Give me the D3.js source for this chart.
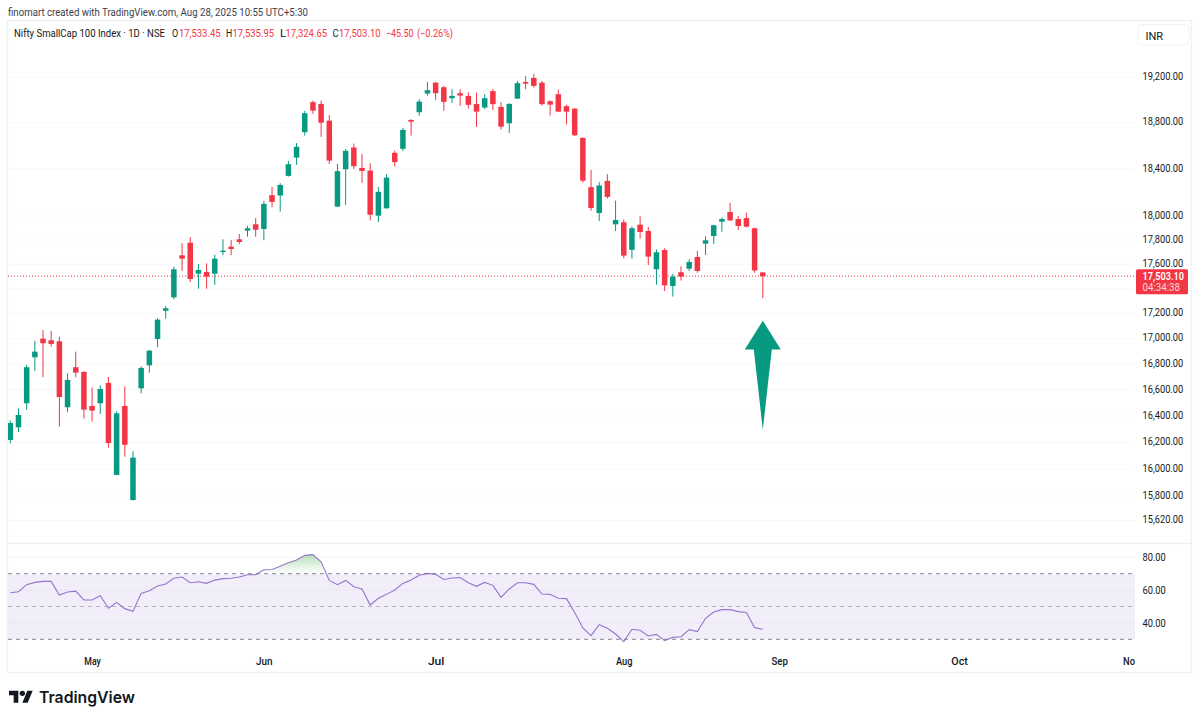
<!DOCTYPE html>
<html>
<head>
<meta charset="utf-8">
<title>Nifty SmallCap 100 Index</title>
<script src="https://cdn.jsdelivr.net/npm/d3@7/dist/d3.min.js"></script>
<style>
  html, body { margin: 0; padding: 0; background: #fff; }
  svg { display: block; }
  text { font-family: Roboto, "Liberation Sans", sans-serif; fill: #131722; }
</style>
</head>
<body>
<svg id="chart" width="1200" height="721"></svg>
<script>
// Daily candles, oldest first
const opens  = [16217,16313,16497,16854,17001,16988,16980,16466,16776,16739,16476,16497,16654,15955,16476,15770,16612,16791,16998,17223,17331,17674,17778,17523,17537,17523,17701,17745,17806,17878,17931,17892,18176,18173,18340,18497,18717,18981,18965,18818,18079,18397,18584,18408,18385,18003,18065,18538,18573,18824,18892,19057,19154,19113,19016,19060,19036,18965,18933,19078,18939,18795,19012,19160,19196,19154,18989,19051,18945,18924,18667,18244,18025,18297,17931,17948,17719,17928,17875,17559,17718,17423,17535,17564,17660,17770,17833,17953,18034,17975,17983,17898,17533.45];
const highs  = [16364,16458,16794,16983,17070,17062,17017,16729,16898,16745,16620,16635,16700,16436,16627,16132,16784,16912,17163,17261,17580,17773,17825,17602,17608,17679,17806,17800,17850,17917,17983,18127,18246,18278,18468,18622,18904,18995,18995,18868,18442,18571,18618,18529,18448,18246,18354,18558,18754,18830,19007,19160,19160,19125,19096,19096,19069,19065,19051,19098,18981,18972,19169,19213,19231,19169,18998,19092,18957,18927,18673,18391,18286,18354,18130,17972,17914,17997,17908,17723,17732,17523,17584,17641,17711,17831,17928,17989,18110,18000,18028,17903,17535.95];
const lows   = [16192,16278,16445,16749,16698,16938,16318,16428,16698,16379,16356,16415,16159,15953,16091,15766,16574,16734,16933,17160,17315,17545,17455,17401,17401,17433,17674,17674,17767,17827,17827,17800,18074,18037,18334,18434,18687,18877,18676,18442,18076,18094,18397,18280,17964,17950,18062,18419,18553,18687,18862,19039,19001,18904,18974,18948,18924,18763,18919,18912,18739,18711,19010,19096,19110,18950,18862,18892,18786,18684,18282,18045,17958,18147,17875,17649,17646,17811,17594,17433,17382,17337,17467,17545,17531,17677,17767,17869,17958,17883,17906,17531,17324.65];
const closes = [16346,16407,16776,16898,16965,16959,16545,16677,16734,16448,16440,16607,16194,16420,16181,16084,16770,16906,17152,17243,17559,17646,17480,17553,17499,17646,17712,17726,17784,17898,17886,18102,18119,18263,18440,18590,18883,18906,18800,18471,18380,18555,18423,18382,18011,18204,18325,18458,18737,18809,18986,19087,19060,18983,19036,19039,18957,18897,19016,18963,18765,18965,19149,19145,19125,18963,18959,18897,18897,18690,18299,18068,18258,18161,17967,17671,17898,17867,17663,17699,17428,17499,17499,17619,17545,17798,17923,17975,17964,17917,17911,17549,17503.10];

// RSI(14) for the same sessions
const rsi = [58.4,59.0,63.3,64.7,65.3,65.3,57.0,58.8,59.4,54.0,54.0,56.6,48.9,52.5,48.7,47.1,58.0,59.6,62.5,63.7,67.2,68.0,64.5,65.1,64.1,66.1,67.0,67.2,68.0,69.4,69.4,72.4,72.6,74.5,76.7,78.3,81.2,81.6,77.3,65.9,63.3,65.9,62.1,60.7,50.9,55.0,57.4,60.1,64.1,66.1,69.0,70.2,69.6,66.5,67.4,67.6,64.5,62.3,64.7,62.9,55.6,60.7,64.5,64.5,63.5,57.6,57.4,55.0,54.8,46.4,36.9,32.2,38.9,36.7,33.2,28.6,36.1,35.5,32.0,33.0,29.2,31.2,31.6,35.9,34.7,42.8,46.6,48.1,48.1,46.9,46.4,37.1,36.1];

// Axis ticks
const priceGrid = [19200,18800,18400,18000,17800,17600,17400,17200,17000,16800,16600,16400,16200,16000,15800,15620];
const priceHiddenTick = 17400;
const rsiTicks = [80,60,40];
const rsiBands = [70,50,30];
const monthNames = ["May","Jun","Jul","Aug","Sep","Oct","Nov"];
const monthStarts = [10,31,52,75,94,116,137];   // session index of each month's first bar

// Header readout
const creditLine = "finomart created with TradingView.com, Aug 28, 2025 10:55 UTC+5:30";
const seriesName = "Nifty SmallCap 100 Index · 1D · NSE";
const change = "−45.50";
const changePct = "(−0.26%)";
const countdown = "04:34:38";
const currency = "INR";

// Annotation: upward arrow under the last session
const arrowBar = 92;
const arrowTip = 17143;
const arrowShoulder = 16915;
const arrowFoot = 16295;

const RED = "#f23645", GREEN = "#089981", PURPLE = "#7e57c2";
const plotLeft = 8, plotRight = 1135;

const svg = d3.select("#chart");

const x = d3.scaleLinear().domain([0, 92]).range([10.3, 762.8]);
const y = d3.scaleLog().domain([15620, 19200]).range([520.5, 77.5]);
const yRsi = d3.scaleLinear().domain([30, 70]).range([639.3, 573.7]);

// Squeezes a text to a fixed run length, keeping its height
const fit = (sel, len) => sel.attr("textLength", len).attr("lengthAdjust", "spacingAndGlyphs");

const defs = svg.append("defs");
defs.append("clipPath").attr("id", "plotClip")
  .append("rect").attr("x", plotLeft).attr("y", 21).attr("width", plotRight - plotLeft).attr("height", 650);
defs.append("clipPath").attr("id", "aboveBand")
  .append("rect").attr("x", plotLeft).attr("y", 544).attr("width", plotRight - plotLeft).attr("height", yRsi(70) - 544);
defs.append("clipPath").attr("id", "belowBand")
  .append("rect").attr("x", plotLeft).attr("y", yRsi(30)).attr("width", plotRight - plotLeft).attr("height", 20);
const obGrad = defs.append("linearGradient").attr("id", "obFill").attr("gradientUnits", "userSpaceOnUse")
  .attr("x1", 0).attr("x2", 0).attr("y1", yRsi(82)).attr("y2", yRsi(70));
obGrad.append("stop").attr("offset", "0%").attr("stop-color", "#4caf50").attr("stop-opacity", 0.4);
obGrad.append("stop").attr("offset", "100%").attr("stop-color", "#4caf50").attr("stop-opacity", 0);
const osGrad = defs.append("linearGradient").attr("id", "osFill").attr("gradientUnits", "userSpaceOnUse")
  .attr("x1", 0).attr("x2", 0).attr("y1", yRsi(30)).attr("y2", yRsi(20));
osGrad.append("stop").attr("offset", "0%").attr("stop-color", "#f23645").attr("stop-opacity", 0);
osGrad.append("stop").attr("offset", "100%").attr("stop-color", "#f23645").attr("stop-opacity", 0.4);

// Outer frame and pane separator
svg.append("rect").attr("x", 7.5).attr("y", 20.5).attr("width", 1184).attr("height", 652)
  .attr("fill", "none").attr("stroke", "#eff1f4").attr("stroke-width", 1.5);
svg.append("line").attr("x1", 8).attr("x2", 1191).attr("y1", 543.5).attr("y2", 543.5)
  .attr("stroke", "#eceef1").attr("stroke-width", 1.5);

// Price gridlines
svg.append("g").selectAll("line").data(priceGrid).join("line")
  .attr("x1", plotLeft).attr("x2", plotRight)
  .attr("y1", d => y(d)).attr("y2", d => y(d))
  .attr("stroke", "#f7f8fa");

// RSI band and gridlines
svg.append("rect").attr("x", plotLeft).attr("width", plotRight - plotLeft)
  .attr("y", yRsi(70)).attr("height", yRsi(30) - yRsi(70))
  .attr("fill", PURPLE).attr("fill-opacity", 0.1);
svg.append("g").selectAll("line").data(rsiTicks).join("line")
  .attr("x1", plotLeft).attr("x2", plotRight)
  .attr("y1", d => yRsi(d)).attr("y2", d => yRsi(d))
  .attr("stroke", "#dcd6ea").attr("stroke-opacity", 0.35);
svg.append("g").selectAll("line").data(rsiBands).join("line")
  .attr("x1", plotLeft).attr("x2", plotRight)
  .attr("y1", d => yRsi(d)).attr("y2", d => yRsi(d))
  .attr("stroke", "#787b86")
  .attr("stroke-opacity", d => d === 50 ? 0.5 : 0.9)
  .attr("stroke-dasharray", "4 4");

// Last price line
svg.append("line").attr("x1", plotLeft).attr("x2", plotRight)
  .attr("y1", y(closes[92])).attr("y2", y(closes[92]))
  .attr("stroke", RED).attr("stroke-dasharray", "1 2");

// Candles
const sessions = closes.map((c, i) => ({ i, o: opens[i], h: highs[i], l: lows[i], c }));
const candles = svg.append("g").attr("clip-path", "url(#plotClip)");
const bodyWidth = 5.5;
candles.selectAll("line").data(sessions).join("line")
  .attr("x1", d => x(d.i)).attr("x2", d => x(d.i))
  .attr("y1", d => y(d.h)).attr("y2", d => y(d.l))
  .attr("stroke", d => d.c >= d.o ? GREEN : RED)
  .attr("stroke-width", 1);
candles.selectAll("rect").data(sessions).join("rect")
  .attr("x", d => x(d.i) - bodyWidth / 2).attr("width", bodyWidth)
  .attr("y", d => y(Math.max(d.o, d.c)))
  .attr("height", d => Math.max(1, Math.abs(y(d.o) - y(d.c))))
  .attr("fill", d => d.c >= d.o ? GREEN : RED);

// RSI overbought / oversold fills and line
const areaTo = level => d3.area().x((d, i) => x(i)).y0(yRsi(level)).y1(d => yRsi(d));
svg.append("path").datum(rsi).attr("clip-path", "url(#aboveBand)")
  .attr("d", areaTo(70)).attr("fill", "url(#obFill)");
svg.append("path").datum(rsi).attr("clip-path", "url(#belowBand)")
  .attr("d", areaTo(30)).attr("fill", "url(#osFill)");
svg.append("path").datum(rsi)
  .attr("d", d3.line().x((d, i) => x(i)).y(d => yRsi(d)))
  .attr("fill", "none").attr("stroke", PURPLE).attr("stroke-opacity", 0.8).attr("stroke-width", 1.1);

// Arrow annotation
const ax = x(arrowBar);
const arrowPts = [[ax, y(arrowTip)], [ax + 18, y(arrowShoulder)], [ax + 9, y(arrowShoulder)],
                  [ax, y(arrowFoot)], [ax - 9, y(arrowShoulder)], [ax - 18, y(arrowShoulder)]];
svg.append("path").attr("d", d3.line()(arrowPts) + "Z").attr("fill", GREEN);

// Axes
const styleAxis = len => g => {
  g.select(".domain").remove();
  g.selectAll(".tick line").remove();
  g.selectAll(".tick text").attr("font-size", 11.5).attr("fill", "#131722").attr("font-family", "Roboto")
    .call(fit, len);
};
svg.append("g").attr("transform", "translate(1142.5,-1.5)")
  .call(d3.axisRight(y).tickValues(priceGrid.filter(v => v !== priceHiddenTick))
    .tickFormat(d3.format(",.2f")).tickSize(0).tickPadding(0))
  .call(styleAxis(40.7));
svg.append("g").attr("transform", "translate(1142.5,-0.5)")
  .call(d3.axisRight(yRsi).tickValues(rsiTicks)
    .tickFormat(d3.format(".2f")).tickSize(0).tickPadding(0))
  .call(styleAxis(23.3));

defs.append("clipPath").attr("id", "timeClip")
  .append("rect").attr("x", plotLeft).attr("y", 650).attr("width", plotRight - plotLeft).attr("height", 22);
svg.append("g").attr("clip-path", "url(#timeClip)")
  .append("g").attr("transform", "translate(0,657)")
  .call(d3.axisBottom(x).tickValues(monthStarts)
    .tickFormat((d, i) => monthNames[i]).tickSize(0).tickPadding(0))
  .call(g => {
    g.select(".domain").remove();
    g.selectAll(".tick text").attr("font-size", 11.5).attr("font-family", "Roboto").attr("font-weight", 500)
      .attr("fill", "#131722").call(fit, 16.5);
  });

// Last price tag
const tagY = y(closes[92]);
svg.append("rect").attr("x", 1136).attr("y", tagY - 7).attr("width", 52).attr("height", 25)
  .attr("rx", 1.5).attr("fill", RED);
svg.append("text").attr("x", 1142.5).attr("y", tagY + 3.6)
  .attr("font-size", 10.5).attr("font-weight", 600).style("fill", "#fff")
  .call(fit, 41.5).text(d3.format(",.2f")(closes[92]));
svg.append("text").attr("x", 1142.5).attr("y", tagY + 15)
  .attr("font-size", 10.5).style("fill", "#fff").style("opacity", 0.8)
  .call(fit, 37.5).text(countdown);

// Currency button
svg.append("rect").attr("x", 1138).attr("y", 24.5).attr("width", 51).attr("height", 20.5).attr("rx", 3.5)
  .attr("fill", "#fff").attr("stroke", "#eff1f4");
svg.append("text").attr("x", 1145.5).attr("y", 39.5).attr("font-size", 11).text(currency);

// Credit line and series header
svg.append("text").attr("x", 8).attr("y", 15.5).attr("font-size", 11.2).style("fill", "#3a3e4a")
  .call(fit, 300).text(creditLine);
const headerY = 36.5;
svg.append("text").attr("x", 14).attr("y", headerY).attr("font-size", 11).call(fit, 151).text(seriesName);

const fmtPrice = d3.format(",.2f");
const ohlc = [
  { tag: "O", tx: 172, vx: 179, v: opens[92] },
  { tag: "H", tx: 226, vx: 232.5, v: highs[92] },
  { tag: "L", tx: 280, vx: 285.5, v: lows[92] },
  { tag: "C", tx: 332.5, vx: 339, v: closes[92] }
];

// Each OHLC field is one text: the letter, then its value in the loss colour
ohlc.forEach(d => {
  const field = svg.append("text").attr("y", headerY).attr("font-size", 11);
  field.append("tspan").attr("x", d.tx).call(fit, 6.2).text(d.tag);
  field.append("tspan").attr("x", d.vx).style("fill", RED).call(fit, 41.5).text(fmtPrice(d.v));
});
svg.append("text").attr("x", 386).attr("y", headerY).attr("font-size", 11).style("fill", RED).call(fit, 27.5).text(change);
svg.append("text").attr("x", 417).attr("y", headerY).attr("font-size", 11).style("fill", RED).call(fit, 36).text(changePct);

// Brand mark and wordmark
const logo = svg.append("g").attr("transform", "translate(9,688) scale(0.667)").style("fill", "#131722");
logo.append("path").attr("d", "M14 22H7V11H0V4h14v18zM28 22h-8l7.5-18h8L28 22z");
logo.append("circle").attr("cx", 20).attr("cy", 8).attr("r", 4);
svg.append("text").attr("x", 39).attr("y", 703)
  .attr("font-weight", 600).attr("font-size", 16.5)
  .style("font-family", "Inter").call(fit, 96).text("TradingView");
</script>
</body>
</html>
